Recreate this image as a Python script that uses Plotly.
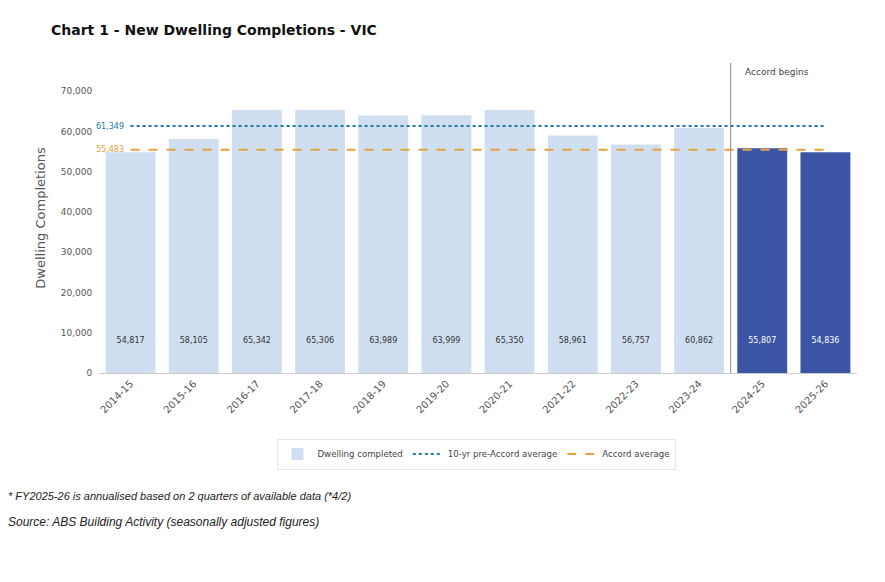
import plotly.graph_objects as go

categories = ["2014-15", "2015-16", "2016-17", "2017-18", "2018-19", "2019-20",
              "2020-21", "2021-22", "2022-23", "2023-24", "2024-25", "2025-26"]
completions = [54817, 58105, 65342, 65306, 63989, 63999, 65350, 58961, 56757, 60862, 55807, 54836]
accord_flags = [False]*10 + [True]*2
pre_accord_avg = 61349
accord_avg = 55483
label_y = 8000

LIGHT = "#cfdff1"
DARK = "#3b54a5"
BLUE = "#2379a8"
ORANGE = "#e9a23b"
FONT = "DejaVu Sans"

idx = list(range(len(categories)))
bar_colors = [DARK if f else LIGHT for f in accord_flags]
text_colors = ["white" if f else "#333333" for f in accord_flags]

L, R, T, B = 99, 28, 63, 209
W, H = 885, 582
pw, ph = W - L - R, H - T - B
bottom_px = H - B

def px_x(x):
    return (x - L) / pw

def px_y(y):
    return (bottom_px - y) / ph

fig = go.Figure()
fig.add_trace(go.Bar(
    x=idx, y=completions, name="Dwelling completed",
    marker=dict(color=bar_colors, line=dict(width=0)),
    hoverinfo="skip",
))
fig.add_trace(go.Scatter(
    x=[idx[0], idx[-1]], y=[pre_accord_avg]*2, mode="lines",
    name="10-yr pre-Accord average",
    line=dict(color=BLUE, width=2, dash="dot"),
))
fig.add_trace(go.Scatter(
    x=[idx[0], idx[-1]], y=[accord_avg]*2, mode="lines",
    name="Accord average",
    line=dict(color=ORANGE, width=2, dash="dash"),
))
fig.add_trace(go.Scatter(
    x=idx, y=[label_y]*len(idx), mode="text",
    text=[f"{v:,}" for v in completions],
    textfont=dict(size=8, color=text_colors, family=FONT),
    showlegend=False, hoverinfo="skip",
))

fig.add_shape(type="line", xref="x", yref="paper", x0=9.5, x1=9.5, y0=0, y1=1,
              line=dict(color="#8c8c8c", width=1))

annotations = [
    dict(x=9.7, y=1, xref="x", yref="paper", text="Accord begins", showarrow=False,
         xanchor="left", yanchor="top", yshift=-2, font=dict(size=9, color="#444", family=FONT)),
    dict(x=-0.08, y=pre_accord_avg, xref="x", yref="y", text=f"{pre_accord_avg:,}",
         showarrow=False, xanchor="right", font=dict(size=8, color=BLUE, family=FONT)),
    dict(x=-0.08, y=accord_avg, xref="x", yref="y", text=f"{accord_avg:,}",
         showarrow=False, xanchor="right", font=dict(size=8, color=ORANGE, family=FONT)),
    dict(x=px_x(49), y=px_y(30), xref="paper", yref="paper",
         text="<b>Chart 1 - New Dwelling Completions - VIC</b>",
         showarrow=False, xanchor="left", yanchor="middle", font=dict(size=14, color="#111", family=FONT)),
    dict(x=px_x(6), y=px_y(496), xref="paper", yref="paper",
         text="<i>* FY2025-26 is annualised based on 2 quarters of available data (*4/2)</i>",
         showarrow=False, xanchor="left", yanchor="middle", font=dict(size=11, color="#222", family="Liberation Sans")),
    dict(x=px_x(6), y=px_y(522), xref="paper", yref="paper",
         text="<i>Source: ABS Building Activity (seasonally adjusted figures)</i>",
         showarrow=False, xanchor="left", yanchor="middle", font=dict(size=12, color="#222", family="Liberation Sans")),
]

fig.update_layout(
    width=W, height=H,
    margin=dict(l=L, r=R, t=T, b=B),
    paper_bgcolor="white", plot_bgcolor="white",
    font=dict(family=FONT, color="#555", size=11),
    bargap=0.21,
    showlegend=True,
    legend=dict(orientation="h", x=px_x(476), xanchor="center",
                y=px_y(454), yanchor="middle",
                bordercolor="#e6e6e6", borderwidth=1,
                font=dict(size=8.6, color="#444", family=FONT)),
    annotations=annotations,
    xaxis=dict(range=[-0.5, 11.5], tickmode="array", tickvals=idx, ticktext=categories,
               tickangle=-45, showgrid=False, zeroline=False, showline=True,
               linecolor="#cccccc", tickfont=dict(size=10, color="#555")),
    yaxis=dict(range=[0, 77000], tickvals=[0, 10000, 20000, 30000, 40000, 50000, 60000, 70000],
               tickformat=",", showgrid=False, zeroline=False, showline=False,
               tickfont=dict(size=9, color="#555"), ticks="outside", ticklen=4, tickcolor="white",
               title=dict(text="Dwelling Completions", font=dict(size=13, color="#555"), standoff=12)),
)

fig.write_html("out.html")
